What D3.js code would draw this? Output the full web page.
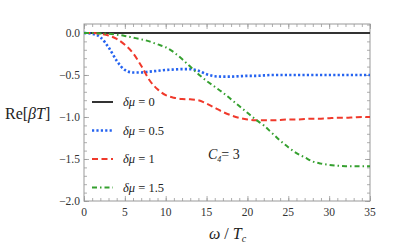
<!DOCTYPE html>
<html>
<head>
<meta charset="utf-8">
<script src="https://cdn.jsdelivr.net/npm/d3@7"></script>
<style>
  body { margin: 0; background: #fff; }
</style>
</head>
<body>
<div id="chart"></div>
<script>
// omega / T_c grid
var omega = [0,1,2,3,4,5,6,7,8,9,10,11,12,13,14,15,16,17,18,19,20,21,22,23,24,25,26,27,28,29,30,31,32,33,34,35];
var mu0 = omega.map(function() { return 0; });
var mu05 = [0,-0.01,-0.05,-0.17,-0.33,-0.44,-0.47,-0.47,-0.46,-0.45,-0.44,-0.435,-0.43,-0.43,-0.45,-0.49,-0.515,-0.52,-0.52,-0.515,-0.51,-0.51,-0.505,-0.5,-0.5,-0.5,-0.5,-0.5,-0.5,-0.5,-0.5,-0.5,-0.5,-0.5,-0.5,-0.5];
var mu1 = [0,0,-0.01,-0.03,-0.07,-0.14,-0.24,-0.39,-0.56,-0.67,-0.74,-0.77,-0.785,-0.79,-0.8,-0.84,-0.89,-0.94,-0.98,-1.01,-1.03,-1.04,-1.04,-1.04,-1.035,-1.03,-1.03,-1.025,-1.02,-1.02,-1.015,-1.01,-1.01,-1.005,-1.0,-1.0];
var mu15 = [0,0,-0.005,-0.01,-0.02,-0.035,-0.055,-0.075,-0.1,-0.135,-0.17,-0.23,-0.31,-0.4,-0.49,-0.57,-0.64,-0.71,-0.79,-0.87,-0.95,-1.03,-1.1,-1.19,-1.28,-1.36,-1.43,-1.48,-1.53,-1.555,-1.57,-1.58,-1.585,-1.585,-1.585,-1.585];
var labels = ["0", "0.5", "1", "1.5"];
var xTicks = [0,5,10,15,20,25,30,35];
var yTicks = [0,-0.5,-1,-1.5,-2];

var serif = "'Liberation Serif', 'DejaVu Serif', serif";

var series = [
  {vals: mu0, label: labels[0], color: "#333333", dash: null, w: 2},
  {vals: mu05, label: labels[1], color: "#2563f0", dash: "2.2,2.2", w: 2.6},
  {vals: mu1, label: labels[2], color: "#f0392b", dash: "6,3.5", w: 2},
  {vals: mu15, label: labels[3], color: "#35a02f", dash: "5,3,1.5,3", w: 2}
];

var margin = {top: 24, right: 45, bottom: 49, left: 84},
    width = 415 - margin.left - margin.right,
    height = 250 - margin.top - margin.bottom;

var svg = d3.select("#chart").append("svg")
    .attr("width", 415).attr("height", 250)
  .append("g")
    .attr("transform", "translate(" + margin.left + "," + margin.top + ")");

var x = d3.scaleLinear().domain([0, 35]).range([0, width]);
var y = d3.scaleLinear().domain([-2, 0.107]).range([height, 0]);

svg.append("defs").append("clipPath").attr("id", "clip")
  .append("rect").attr("width", width).attr("height", height);

// frame ticks (inside, on all four sides)
var frameColor = "#999";
var xMinor = d3.range(0, 36, 1), yMinor = d3.range(-20, 2, 1).map(function(d) { return d / 10; });

function tickLines(g, axisFn, scale, major, minor, size) {
  g.call(axisFn(scale).tickValues(minor).tickSize(size * 0.6).tickFormat(""));
  g.append("g").call(axisFn(scale).tickValues(major).tickSize(size).tickFormat(""));
  g.selectAll("line").attr("stroke", frameColor).attr("stroke-width", 0.8);
  g.selectAll("path.domain").remove();
}

tickLines(svg.append("g").attr("transform", "translate(0," + height + ")"), d3.axisTop, x, xTicks, xMinor, 5);
tickLines(svg.append("g"), d3.axisBottom, x, xTicks, xMinor, 5);
tickLines(svg.append("g"), d3.axisRight, y, yTicks, yMinor, 5);
tickLines(svg.append("g").attr("transform", "translate(" + width + ",0)"), d3.axisLeft, y, yTicks, yMinor, 5);

svg.append("rect").attr("width", width).attr("height", height)
  .attr("fill", "none").attr("stroke", frameColor).attr("stroke-width", 1);

// tick labels
svg.selectAll(".xl").data(xTicks).enter().append("text")
  .attr("x", function(d) { return x(d); }).attr("y", height + 15)
  .attr("text-anchor", "middle").attr("font-size", 11.5).attr("fill", "#333")
  .attr("font-family", serif)
  .text(function(d) { return d; });

svg.selectAll(".yl").data(yTicks).enter().append("text")
  .attr("x", -4).attr("y", function(d) { return y(d) + 4; })
  .attr("text-anchor", "end").attr("font-size", 11.5).attr("fill", "#333")
  .attr("font-family", serif)
  .text(function(d) { return (d < 0 ? "\u2212" : "") + Math.abs(d).toFixed(1); });

// curves
var line = d3.line()
  .x(function(d, i) { return x(omega[i]); })
  .y(function(d) { return y(d); })
  .curve(d3.curveMonotoneX);

svg.append("g").attr("clip-path", "url(#clip)")
  .selectAll("path").data(series).enter().append("path")
  .attr("d", function(s) { return line(s.vals); })
  .attr("fill", "none")
  .attr("stroke", function(s) { return s.color; })
  .attr("stroke-width", function(s) { return s.w; })
  .attr("stroke-dasharray", function(s) { return s.dash; });

// legend
var leg = svg.selectAll(".leg").data(series).enter().append("g")
  .attr("transform", function(s, i) { return "translate(8," + (78 + i * 28.5) + ")"; });
leg.append("line").attr("x1", 0).attr("x2", 21)
  .attr("stroke", function(s) { return s.color; })
  .attr("stroke-width", function(s) { return s.w; })
  .attr("stroke-dasharray", function(s) { return s.dash; });
var lt = leg.append("text").attr("x", 31).attr("y", 4).attr("font-size", 12.5).attr("fill", "#222")
  .attr("font-family", serif);
lt.append("tspan").attr("font-style", "italic").text("\u03b4\u03bc");
lt.append("tspan").text(function(s) { return " = " + s.label; });

// C4 = 3 label
var c4 = svg.append("text").attr("x", 124).attr("y", 135).attr("font-size", 14).attr("fill", "#222")
  .attr("font-family", serif);
c4.append("tspan").attr("font-style", "italic").text("C");
c4.append("tspan").attr("font-size", 8).attr("font-style", "italic").attr("dy", 3).text("4");
c4.append("tspan").attr("dy", -3).text("= 3");

// axis titles
var yt = svg.append("text").attr("x", -79).attr("y", 95).attr("font-size", 16).attr("fill", "#222")
  .attr("font-family", serif);
yt.append("tspan").text("Re[");
yt.append("tspan").attr("font-style", "italic").text("\u03b2T");
yt.append("tspan").text("]");

var xt = svg.append("text").attr("x", width / 2 - 18).attr("y", height + 38).attr("font-size", 16).attr("fill", "#222")
  .attr("font-family", serif);
xt.append("tspan").attr("font-style", "italic").text("\u03c9");
xt.append("tspan").text(" / ");
xt.append("tspan").attr("font-style", "italic").text("T");
xt.append("tspan").attr("font-size", 10).attr("font-style", "italic").attr("dy", 3).text("c");
</script>
</body>
</html>
